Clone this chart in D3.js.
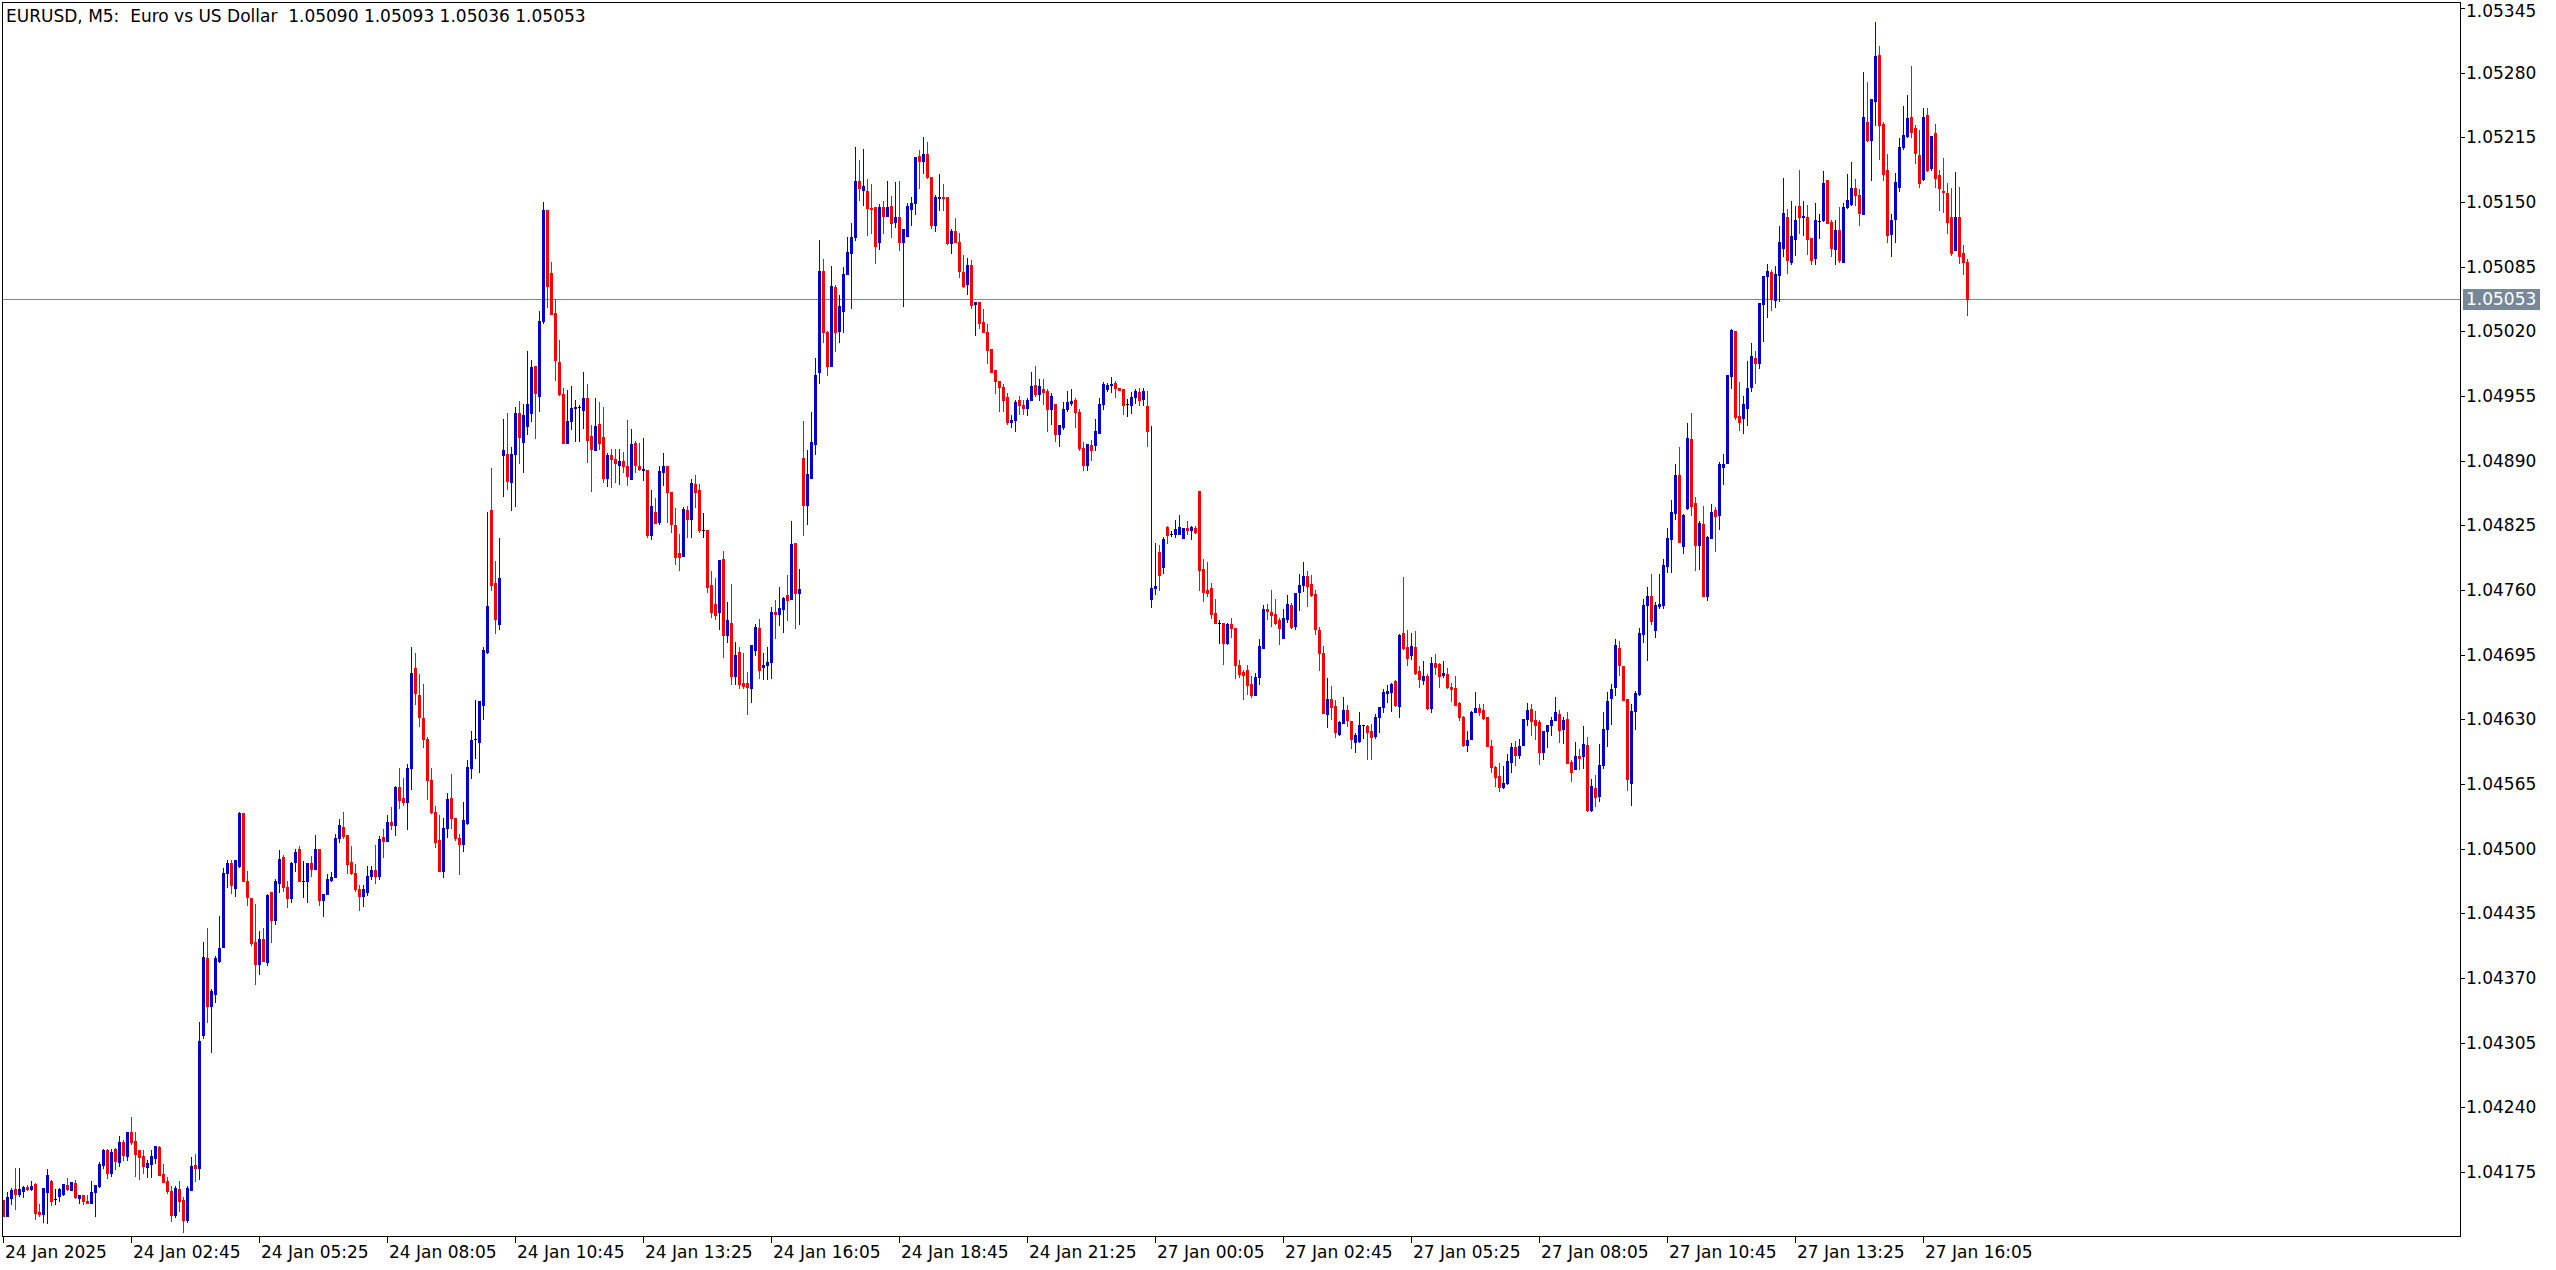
<!DOCTYPE html>
<html><head><meta charset="utf-8">
<script src="https://cdn.jsdelivr.net/npm/d3@7"></script>
<style>html,body{margin:0;padding:0;background:#fff;overflow:hidden}svg{display:block}</style>
</head><body>
<svg id="chart" width="2556" height="1270"></svg>
<script>
const openP = [
1.04147,1.04131,1.04149,1.04158,1.04153,1.04156,1.04160,1.04158,1.04163,1.04135,
1.04133,1.04155,1.04166,1.04148,1.04151,1.04153,1.04162,1.04157,1.04164,1.04149,
1.04152,1.04146,1.04144,1.04155,1.04161,1.04182,1.04197,1.04174,1.04198,1.04185,
1.04205,1.04191,1.04215,1.04206,1.04197,1.04191,1.04180,1.04183,1.04189,1.04200,
1.04173,1.04166,1.04156,1.04132,1.04158,1.04147,1.04127,1.04157,1.04182,1.04179,
1.04313,1.04390,1.04342,1.04354,1.04387,1.04401,1.04476,1.04486,1.04460,1.04483,
1.04536,1.04468,1.04450,1.04406,1.04384,1.04409,1.04386,1.04456,1.04428,1.04465,
1.04492,1.04461,1.04450,1.04487,1.04500,1.04468,1.04467,1.04486,1.04480,1.04500,
1.04448,1.04454,1.04469,1.04472,1.04511,1.04522,1.04514,1.04487,1.04476,1.04459,
1.04452,1.04456,1.04473,1.04479,1.04473,1.04512,1.04508,1.04527,1.04524,1.04562,
1.04551,1.04547,1.04581,1.04682,1.04654,1.04631,1.04610,1.04569,1.04537,1.04509,
1.04478,1.04521,1.04551,1.04531,1.04511,1.04505,1.04526,1.04581,1.04610,1.04607,
1.04644,1.04698,1.04840,1.04767,1.04726,1.04896,1.04897,1.04869,1.04897,1.04938,
1.04909,1.04925,1.04938,1.04985,1.04955,1.05030,1.05142,1.05079,1.05038,1.04989,
1.04957,1.04908,1.04930,1.04943,1.04944,1.04941,1.04953,1.04915,1.04901,1.04927,
1.04914,1.04873,1.04896,1.04892,1.04886,1.04890,1.04885,1.04872,1.04908,1.04885,
1.04881,1.04881,1.04815,1.04838,1.04828,1.04879,1.04885,1.04859,1.04825,1.04797,
1.04794,1.04840,1.04831,1.04867,1.04861,1.04820,1.04820,1.04765,1.04746,1.04738,
1.04791,1.04715,1.04727,1.04674,1.04698,1.04667,1.04667,1.04661,1.04700,1.04722,
1.04683,1.04685,1.04688,1.04738,1.04736,1.04741,1.04755,1.04751,1.04807,1.04757,
1.04893,1.04845,1.04873,1.04907,1.04979,1.05081,1.05019,1.04985,1.05065,1.05020,
1.05040,1.05078,1.05099,1.05115,1.05171,1.05162,1.05161,1.05144,1.05145,1.05110,
1.05145,1.05136,1.05146,1.05130,1.05135,1.05110,1.05116,1.05143,1.05149,1.05196,
1.05191,1.05198,1.05175,1.05127,1.05154,1.05155,1.05155,1.05109,1.05121,1.05110,
1.05080,1.05068,1.05087,1.05047,1.05049,1.05029,1.05019,1.05002,1.04981,1.04970,
1.04964,1.04954,1.04929,1.04931,1.04951,1.04946,1.04943,1.04951,1.04966,1.04957,
1.04962,1.04960,1.04942,1.04947,1.04917,1.04924,1.04942,1.04948,1.04951,1.04939,
1.04903,1.04886,1.04906,1.04906,1.04918,1.04947,1.04962,1.04966,1.04968,1.04963,
1.04962,1.04947,1.04946,1.04954,1.04959,1.04952,1.04945,1.04751,1.04762,1.04798,
1.04783,1.04823,1.04816,1.04816,1.04816,1.04812,1.04822,1.04820,1.04822,1.04860,
1.04781,1.04760,1.04762,1.04737,1.04727,1.04727,1.04707,1.04726,1.04722,1.04685,
1.04678,1.04680,1.04666,1.04654,1.04673,1.04702,1.04741,1.04738,1.04736,1.04730,
1.04712,1.04731,1.04745,1.04724,1.04758,1.04765,1.04774,1.04766,1.04756,1.04720,
1.04697,1.04635,1.04650,1.04643,1.04615,1.04626,1.04639,1.04628,1.04607,1.04608,
1.04624,1.04623,1.04618,1.04613,1.04632,1.04642,1.04656,1.04657,1.04669,1.04643,
1.04717,1.04703,1.04695,1.04703,1.04679,1.04670,1.04674,1.04641,1.04687,1.04686,
1.04675,1.04676,1.04663,1.04661,1.04646,1.04632,1.04604,1.04610,1.04637,1.04641,
1.04639,1.04632,1.04603,1.04582,1.04573,1.04562,1.04566,1.04587,1.04602,1.04594,
1.04604,1.04630,1.04640,1.04629,1.04627,1.04597,1.04618,1.04624,1.04629,1.04635,
1.04620,1.04630,1.04587,1.04580,1.04593,1.04593,1.04604,1.04539,1.04561,1.04553,
1.04584,1.04620,1.04651,1.04662,1.04702,1.04684,1.04650,1.04566,1.04638,1.04655,
1.04716,1.04745,1.04754,1.04720,1.04744,1.04745,1.04784,1.04811,1.04837,1.04876,
1.04804,1.04842,1.04912,1.04847,1.04805,1.04826,1.04754,1.04812,1.04840,1.04835,
1.04884,1.04888,1.04975,1.05020,1.04935,1.04933,1.04943,1.04964,1.04993,1.04988,
1.05047,1.05076,1.05080,1.05051,1.05077,1.05104,1.05135,1.05090,1.05113,1.05146,
1.05135,1.05135,1.05114,1.05094,1.05131,1.05132,1.05172,1.05130,1.05103,1.05122,
1.05090,1.05145,1.05148,1.05164,1.05157,1.05138,1.05230,1.05212,1.05252,1.05298,
1.05228,1.05182,1.05118,1.05133,1.05165,1.05205,1.05216,1.05235,1.05224,1.05197,
1.05173,1.05237,1.05184,1.05219,1.05177,1.05161,1.05159,1.05135,1.05102,1.05135,
1.05099,1.05090];
const highP = [
1.04147,1.04155,1.04159,1.04179,1.04179,1.04161,1.04162,1.04166,1.04164,1.04143,
1.04159,1.04178,1.04167,1.04158,1.04159,1.04163,1.04169,1.04165,1.04167,1.04152,
1.04152,1.04152,1.04166,1.04162,1.04185,1.04198,1.04198,1.04198,1.04199,1.04211,
1.04207,1.04215,1.04230,1.04215,1.04197,1.04197,1.04187,1.04197,1.04201,1.04201,
1.04183,1.04170,1.04161,1.04161,1.04166,1.04150,1.04161,1.04190,1.04193,1.04326,
1.04406,1.04420,1.04359,1.04392,1.04432,1.04481,1.04489,1.04489,1.04489,1.04537,
1.04536,1.04478,1.04450,1.04444,1.04417,1.04420,1.04454,1.04456,1.04470,1.04499,
1.04494,1.04467,1.04487,1.04500,1.04503,1.04488,1.04486,1.04493,1.04514,1.04500,
1.04454,1.04475,1.04477,1.04515,1.04530,1.04537,1.04514,1.04503,1.04485,1.04463,
1.04463,1.04483,1.04483,1.04504,1.04513,1.04520,1.04534,1.04542,1.04563,1.04581,
1.04571,1.04585,1.04703,1.04697,1.04676,1.04666,1.04612,1.04581,1.04543,1.04534,
1.04531,1.04556,1.04575,1.04531,1.04515,1.04547,1.04589,1.04618,1.04649,1.04648,
1.04703,1.04838,1.04883,1.04789,1.04812,1.04932,1.04938,1.04904,1.04944,1.04950,
1.04947,1.05000,1.04991,1.04985,1.05040,1.05150,1.05142,1.05090,1.05052,1.05011,
1.04963,1.04961,1.04965,1.04951,1.04946,1.04979,1.04967,1.04926,1.04953,1.04949,
1.04944,1.04898,1.04902,1.04902,1.04902,1.04899,1.04931,1.04922,1.04910,1.04908,
1.04913,1.04881,1.04861,1.04852,1.04885,1.04898,1.04885,1.04859,1.04842,1.04816,
1.04843,1.04844,1.04872,1.04876,1.04867,1.04837,1.04820,1.04779,1.04772,1.04790,
1.04799,1.04748,1.04766,1.04708,1.04703,1.04697,1.04678,1.04705,1.04726,1.04731,
1.04697,1.04703,1.04743,1.04750,1.04763,1.04753,1.04775,1.04829,1.04807,1.04781,
1.04930,1.04901,1.04939,1.04993,1.05112,1.05093,1.05020,1.05086,1.05067,1.05057,
1.05085,1.05115,1.05129,1.05205,1.05192,1.05203,1.05173,1.05168,1.05145,1.05148,
1.05151,1.05171,1.05156,1.05170,1.05171,1.05123,1.05149,1.05155,1.05195,1.05202,
1.05215,1.05210,1.05175,1.05157,1.05178,1.05168,1.05155,1.05123,1.05134,1.05119,
1.05097,1.05094,1.05092,1.05049,1.05049,1.05042,1.05027,1.05002,1.04981,1.04970,
1.04967,1.04958,1.04936,1.04951,1.04955,1.04951,1.04953,1.04979,1.04985,1.04972,
1.04972,1.04962,1.04958,1.04947,1.04926,1.04949,1.04960,1.04962,1.04953,1.04942,
1.04909,1.04907,1.04911,1.04932,1.04953,1.04969,1.04968,1.04974,1.04970,1.04963,
1.04962,1.04952,1.04959,1.04962,1.04963,1.04963,1.04960,1.04925,1.04807,1.04805,
1.04813,1.04824,1.04819,1.04830,1.04835,1.04822,1.04829,1.04824,1.04824,1.04860,
1.04791,1.04788,1.04767,1.04751,1.04730,1.04727,1.04727,1.04732,1.04722,1.04690,
1.04680,1.04685,1.04674,1.04677,1.04711,1.04745,1.04746,1.04760,1.04751,1.04732,
1.04741,1.04755,1.04747,1.04757,1.04776,1.04788,1.04779,1.04775,1.04760,1.04723,
1.04704,1.04672,1.04664,1.04649,1.04628,1.04652,1.04644,1.04628,1.04616,1.04637,
1.04624,1.04624,1.04625,1.04635,1.04642,1.04660,1.04665,1.04667,1.04670,1.04716,
1.04773,1.04720,1.04717,1.04719,1.04684,1.04689,1.04676,1.04693,1.04696,1.04687,
1.04689,1.04682,1.04667,1.04674,1.04647,1.04633,1.04618,1.04638,1.04657,1.04645,
1.04645,1.04632,1.04609,1.04583,1.04586,1.04583,1.04595,1.04606,1.04608,1.04610,
1.04630,1.04646,1.04645,1.04638,1.04629,1.04618,1.04624,1.04632,1.04652,1.04639,
1.04632,1.04637,1.04589,1.04607,1.04600,1.04623,1.04612,1.04570,1.04574,1.04605,
1.04637,1.04657,1.04666,1.04711,1.04709,1.04684,1.04650,1.04645,1.04658,1.04722,
1.04751,1.04763,1.04776,1.04748,1.04776,1.04791,1.04822,1.04850,1.04887,1.04904,
1.04836,1.04928,1.04938,1.04853,1.04829,1.04844,1.04814,1.04846,1.04843,1.04889,
1.04897,1.04976,1.05022,1.05020,1.04969,1.04955,1.04990,1.05008,1.05000,1.05048,
1.05076,1.05088,1.05082,1.05086,1.05126,1.05174,1.05143,1.05151,1.05146,1.05182,
1.05151,1.05147,1.05114,1.05149,1.05138,1.05181,1.05172,1.05132,1.05132,1.05145,
1.05149,1.05178,1.05190,1.05173,1.05163,1.05281,1.05271,1.05254,1.05331,1.05307,
1.05230,1.05198,1.05138,1.05179,1.05214,1.05246,1.05258,1.05287,1.05227,1.05222,
1.05244,1.05244,1.05216,1.05228,1.05182,1.05194,1.05169,1.05164,1.05180,1.05165,
1.05107,1.05093];
const lowP = [
1.04131,1.04131,1.04143,1.04138,1.04151,1.04150,1.04157,1.04157,1.04128,1.04131,
1.04125,1.04124,1.04142,1.04143,1.04146,1.04152,1.04157,1.04157,1.04149,1.04144,
1.04143,1.04144,1.04144,1.04131,1.04160,1.04179,1.04169,1.04171,1.04178,1.04181,
1.04187,1.04187,1.04203,1.04171,1.04168,1.04174,1.04170,1.04170,1.04184,1.04172,
1.04165,1.04154,1.04126,1.04130,1.04136,1.04115,1.04125,1.04157,1.04166,1.04168,
1.04310,1.04326,1.04296,1.04346,1.04386,1.04401,1.04461,1.04455,1.04452,1.04482,
1.04468,1.04443,1.04403,1.04364,1.04374,1.04387,1.04383,1.04406,1.04424,1.04456,
1.04457,1.04441,1.04446,1.04478,1.04468,1.04451,1.04446,1.04473,1.04480,1.04443,
1.04432,1.04454,1.04467,1.04472,1.04507,1.04511,1.04476,1.04475,1.04457,1.04438,
1.04442,1.04453,1.04470,1.04465,1.04470,1.04492,1.04508,1.04520,1.04514,1.04541,
1.04544,1.04520,1.04560,1.04645,1.04623,1.04602,1.04550,1.04536,1.04502,1.04478,
1.04472,1.04512,1.04521,1.04509,1.04475,1.04498,1.04525,1.04571,1.04591,1.04577,
1.04630,1.04697,1.04760,1.04717,1.04721,1.04854,1.04862,1.04840,1.04844,1.04888,
1.04879,1.04917,1.04930,1.04913,1.04940,1.05028,1.05044,1.05037,1.04971,1.04956,
1.04908,1.04908,1.04922,1.04910,1.04910,1.04923,1.04889,1.04860,1.04901,1.04902,
1.04869,1.04865,1.04864,1.04869,1.04867,1.04879,1.04866,1.04872,1.04879,1.04881,
1.04871,1.04813,1.04811,1.04827,1.04826,1.04866,1.04828,1.04818,1.04786,1.04780,
1.04794,1.04813,1.04813,1.04843,1.04818,1.04813,1.04758,1.04733,1.04731,1.04721,
1.04693,1.04708,1.04666,1.04666,1.04661,1.04661,1.04635,1.04647,1.04695,1.04672,
1.04671,1.04671,1.04672,1.04712,1.04725,1.04718,1.04730,1.04751,1.04722,1.04726,
1.04815,1.04826,1.04873,1.04897,1.04968,1.05009,1.04976,1.04985,1.05000,1.05009,
1.05019,1.05078,1.05043,1.05112,1.05152,1.05147,1.05117,1.05119,1.05089,1.05103,
1.05119,1.05136,1.05115,1.05125,1.05102,1.05045,1.05116,1.05127,1.05138,1.05164,
1.05179,1.05174,1.05124,1.05121,1.05142,1.05142,1.05108,1.05099,1.05110,1.05075,
1.05065,1.05058,1.05043,1.05016,1.05023,1.05019,1.04988,1.04979,1.04958,1.04940,
1.04940,1.04927,1.04924,1.04920,1.04937,1.04937,1.04936,1.04951,1.04955,1.04951,
1.04947,1.04920,1.04927,1.04910,1.04905,1.04922,1.04940,1.04946,1.04924,1.04901,
1.04881,1.04881,1.04891,1.04901,1.04918,1.04942,1.04960,1.04959,1.04954,1.04961,
1.04937,1.04935,1.04938,1.04948,1.04946,1.04946,1.04905,1.04743,1.04756,1.04760,
1.04777,1.04807,1.04814,1.04813,1.04816,1.04812,1.04816,1.04811,1.04817,1.04760,
1.04749,1.04754,1.04732,1.04727,1.04707,1.04686,1.04706,1.04713,1.04672,1.04673,
1.04650,1.04655,1.04652,1.04654,1.04666,1.04702,1.04731,1.04724,1.04726,1.04706,
1.04712,1.04728,1.04722,1.04721,1.04740,1.04759,1.04744,1.04754,1.04716,1.04680,
1.04636,1.04622,1.04630,1.04612,1.04614,1.04626,1.04623,1.04601,1.04597,1.04607,
1.04611,1.04590,1.04590,1.04611,1.04617,1.04637,1.04647,1.04638,1.04643,1.04632,
1.04701,1.04685,1.04691,1.04676,1.04663,1.04666,1.04640,1.04637,1.04676,1.04663,
1.04673,1.04661,1.04648,1.04644,1.04629,1.04603,1.04598,1.04610,1.04637,1.04634,
1.04630,1.04603,1.04577,1.04563,1.04558,1.04561,1.04565,1.04577,1.04584,1.04591,
1.04604,1.04624,1.04614,1.04610,1.04585,1.04590,1.04602,1.04614,1.04629,1.04607,
1.04606,1.04586,1.04568,1.04580,1.04580,1.04581,1.04538,1.04538,1.04543,1.04548,
1.04581,1.04603,1.04625,1.04654,1.04675,1.04649,1.04559,1.04544,1.04620,1.04654,
1.04708,1.04690,1.04726,1.04713,1.04742,1.04742,1.04778,1.04778,1.04831,1.04808,
1.04797,1.04841,1.04835,1.04780,1.04781,1.04754,1.04750,1.04812,1.04799,1.04821,
1.04867,1.04888,1.04963,1.04932,1.04921,1.04918,1.04926,1.04960,1.04968,1.04983,
1.05010,1.05034,1.05041,1.05044,1.05050,1.05096,1.05079,1.05088,1.05097,1.05119,
1.05117,1.05098,1.05088,1.05088,1.05114,1.05131,1.05129,1.05096,1.05088,1.05090,
1.05090,1.05144,1.05147,1.05147,1.05127,1.05138,1.05211,1.05172,1.05227,1.05193,
1.05172,1.05110,1.05096,1.05110,1.05161,1.05203,1.05215,1.05215,1.05189,1.05165,
1.05172,1.05181,1.05182,1.05165,1.05142,1.05140,1.05119,1.05097,1.05102,1.05089,
1.05078,1.05036];
const closeP = [
1.04131,1.04150,1.04157,1.04153,1.04158,1.04160,1.04158,1.04161,1.04134,1.04133,
1.04159,1.04172,1.04146,1.04148,1.04158,1.04163,1.04158,1.04165,1.04150,1.04152,
1.04146,1.04144,1.04155,1.04162,1.04183,1.04197,1.04174,1.04195,1.04186,1.04205,
1.04192,1.04215,1.04205,1.04193,1.04190,1.04181,1.04184,1.04191,1.04201,1.04172,
1.04165,1.04156,1.04132,1.04159,1.04146,1.04127,1.04159,1.04181,1.04179,1.04307,
1.04391,1.04342,1.04357,1.04390,1.04400,1.04476,1.04486,1.04463,1.04489,1.04536,
1.04468,1.04451,1.04405,1.04384,1.04409,1.04387,1.04453,1.04428,1.04468,1.04490,
1.04461,1.04450,1.04486,1.04497,1.04468,1.04468,1.04486,1.04480,1.04500,1.04448,
1.04454,1.04470,1.04472,1.04511,1.04524,1.04513,1.04485,1.04476,1.04459,1.04452,
1.04459,1.04473,1.04479,1.04473,1.04510,1.04508,1.04527,1.04524,1.04562,1.04549,
1.04547,1.04581,1.04677,1.04656,1.04632,1.04610,1.04569,1.04537,1.04507,1.04478,
1.04521,1.04550,1.04531,1.04511,1.04505,1.04529,1.04582,1.04609,1.04610,1.04648,
1.04700,1.04744,1.04765,1.04731,1.04772,1.04901,1.04870,1.04897,1.04938,1.04914,
1.04936,1.04947,1.04984,1.04958,1.05030,1.05142,1.05066,1.05037,1.04991,1.04957,
1.04908,1.04930,1.04943,1.04944,1.04944,1.04953,1.04911,1.04902,1.04925,1.04908,
1.04873,1.04896,1.04892,1.04888,1.04890,1.04885,1.04875,1.04907,1.04886,1.04882,
1.04882,1.04815,1.04844,1.04827,1.04880,1.04885,1.04859,1.04826,1.04793,1.04793,
1.04841,1.04831,1.04868,1.04859,1.04820,1.04820,1.04763,1.04738,1.04735,1.04790,
1.04715,1.04730,1.04674,1.04695,1.04666,1.04664,1.04662,1.04705,1.04723,1.04680,
1.04685,1.04688,1.04738,1.04736,1.04742,1.04752,1.04750,1.04806,1.04757,1.04761,
1.04845,1.04877,1.04909,1.04976,1.05081,1.05019,1.04985,1.05066,1.05019,1.05045,
1.05078,1.05100,1.05115,1.05171,1.05164,1.05166,1.05144,1.05143,1.05106,1.05145,
1.05136,1.05145,1.05129,1.05135,1.05110,1.05123,1.05146,1.05149,1.05195,1.05191,
1.05198,1.05175,1.05127,1.05155,1.05155,1.05154,1.05109,1.05121,1.05110,1.05081,
1.05066,1.05087,1.05046,1.05049,1.05028,1.05019,1.05001,1.04979,1.04970,1.04964,
1.04951,1.04929,1.04931,1.04949,1.04946,1.04943,1.04951,1.04965,1.04957,1.04965,
1.04959,1.04942,1.04955,1.04917,1.04926,1.04942,1.04949,1.04950,1.04939,1.04903,
1.04886,1.04907,1.04901,1.04920,1.04947,1.04967,1.04966,1.04967,1.04963,1.04961,
1.04946,1.04947,1.04954,1.04960,1.04951,1.04960,1.04920,1.04762,1.04764,1.04775,
1.04811,1.04815,1.04816,1.04821,1.04823,1.04822,1.04820,1.04823,1.04818,1.04780,
1.04758,1.04757,1.04736,1.04727,1.04727,1.04707,1.04726,1.04722,1.04685,1.04676,
1.04675,1.04665,1.04654,1.04673,1.04704,1.04741,1.04739,1.04735,1.04727,1.04722,
1.04732,1.04746,1.04723,1.04757,1.04765,1.04774,1.04764,1.04755,1.04721,1.04697,
1.04636,1.04650,1.04642,1.04617,1.04627,1.04639,1.04629,1.04610,1.04614,1.04624,
1.04624,1.04617,1.04612,1.04632,1.04642,1.04657,1.04658,1.04666,1.04644,1.04715,
1.04702,1.04692,1.04704,1.04677,1.04671,1.04674,1.04641,1.04687,1.04683,1.04674,
1.04677,1.04663,1.04660,1.04644,1.04632,1.04604,1.04609,1.04637,1.04641,1.04637,
1.04631,1.04603,1.04582,1.04572,1.04562,1.04566,1.04588,1.04602,1.04594,1.04603,
1.04630,1.04639,1.04628,1.04624,1.04597,1.04618,1.04624,1.04629,1.04637,1.04619,
1.04629,1.04586,1.04577,1.04593,1.04591,1.04605,1.04539,1.04563,1.04552,1.04584,
1.04620,1.04648,1.04660,1.04705,1.04685,1.04649,1.04570,1.04638,1.04656,1.04717,
1.04745,1.04754,1.04729,1.04745,1.04746,1.04785,1.04812,1.04838,1.04876,1.04808,
1.04835,1.04913,1.04844,1.04805,1.04827,1.04754,1.04813,1.04838,1.04834,1.04887,
1.04887,1.04976,1.05021,1.04934,1.04929,1.04947,1.04963,1.04995,1.04988,1.05048,
1.05076,1.05081,1.05053,1.05078,1.05110,1.05139,1.05092,1.05116,1.05132,1.05135,
1.05136,1.05113,1.05092,1.05132,1.05131,1.05169,1.05129,1.05104,1.05122,1.05092,
1.05145,1.05152,1.05164,1.05157,1.05139,1.05235,1.05212,1.05254,1.05297,1.05227,
1.05178,1.05117,1.05132,1.05170,1.05205,1.05217,1.05234,1.05220,1.05199,1.05169,
1.05235,1.05182,1.05216,1.05174,1.05164,1.05160,1.05130,1.05099,1.05135,1.05096,
1.05090,1.05053];

const timeTickBars = [0,32,64,96,128,160,192,224,256,288,320,352,384,416,448,480];
const timeTickLabels = ["24 Jan 2025","24 Jan 02:45","24 Jan 05:25","24 Jan 08:05","24 Jan 10:45","24 Jan 13:25","24 Jan 16:05","24 Jan 18:45","24 Jan 21:25","27 Jan 00:05","27 Jan 02:45","27 Jan 05:25","27 Jan 08:05","27 Jan 10:45","27 Jan 13:25","27 Jan 16:05"];
const priceTicks = [1.05345,1.05280,1.05215,1.05150,1.05085,1.05020,1.04955,1.04890,1.04825,1.04760,1.04695,1.04630,1.04565,1.04500,1.04435,1.04370,1.04305,1.04240,1.04175];
const lastPrice = 1.05053;
const titleText = "EURUSD, M5:  Euro vs US Dollar  1.05090 1.05093 1.05036 1.05053";

const FONT = "'DejaVu Sans', 'Liberation Sans', sans-serif";
const FS = 17;
const UP = "#0000d0", DOWN = "#ff0000", DOJI = "#000000", LINE = "#778899";

const svg = d3.select("#chart");
const frame = {left: 2, top: 2, right: 2460, bottom: 1236};

const x = d3.scaleLinear().domain([0, openP.length - 1]).range([3, 3 + 4 * (openP.length - 1)]);
const y = d3.scaleLinear().domain([1.04175, 1.05345]).range([1172, 8]);
const py = v => Math.round(y(v));

svg.append("rect").attr("x",0).attr("y",0).attr("width",2556).attr("height",1270).attr("fill","#fff");

// current price line
svg.append("rect").attr("shape-rendering","crispEdges").attr("x", frame.left).attr("y", py(lastPrice)).attr("width", frame.right - frame.left).attr("height", 1).attr("fill", LINE);

// candles
const bars = d3.range(openP.length).map(i => ({i, o: openP[i], h: highP[i], l: lowP[i], c: closeP[i]}));
const g = svg.append("g").attr("shape-rendering", "crispEdges");
const col = d => d.c > d.o ? UP : (d.c < d.o ? DOWN : DOJI);
g.selectAll("rect.wick").data(bars).join("rect").attr("class","wick")
  .attr("x", d => x(d.i)).attr("width", 1)
  .attr("y", d => py(Math.max(d.h, d.o, d.c)))
  .attr("height", d => py(Math.min(d.l, d.o, d.c)) - py(Math.max(d.h, d.o, d.c)) + 1)
  .attr("fill", col);
g.selectAll("rect.body").data(bars).join("rect").attr("class","body")
  .attr("x", d => x(d.i) - 1).attr("width", 3)
  .attr("y", d => py(Math.max(d.o, d.c)))
  .attr("height", d => py(Math.min(d.o, d.c)) - py(Math.max(d.o, d.c)) + 1)
  .attr("fill", col);

// frame
const fr = svg.append("g").attr("shape-rendering","crispEdges");
fr.append("rect").attr("x", frame.left).attr("y", frame.top).attr("width", frame.right - frame.left + 1).attr("height", 1).attr("fill","#000");
fr.append("rect").attr("x", frame.left).attr("y", frame.top).attr("width", 1).attr("height", frame.bottom - frame.top + 1).attr("fill","#000");
fr.append("rect").attr("x", frame.right).attr("y", frame.top).attr("width", 1).attr("height", frame.bottom - frame.top + 1).attr("fill","#000");
fr.append("rect").attr("x", frame.left).attr("y", frame.bottom).attr("width", frame.right - frame.left + 1).attr("height", 1).attr("fill","#000");

// y axis
const ya = svg.append("g");
ya.selectAll("rect").data(priceTicks).join("rect").attr("shape-rendering","crispEdges")
  .attr("x", frame.right + 1).attr("y", d => py(d)).attr("width", 4).attr("height", 1).attr("fill","#000");
ya.selectAll("text").data(priceTicks).join("text")
  .attr("x", frame.right + 6).attr("y", d => Math.max(py(d) + 6, 17))
  .attr("font-family", FONT).attr("font-size", FS).attr("fill","#000")
  .text(d => d.toFixed(5));

// current price tag
const tag = svg.append("g");
tag.append("rect").attr("shape-rendering","crispEdges").attr("x", frame.right + 3).attr("y", py(lastPrice) - 10).attr("width", 77).attr("height", 21).attr("fill", LINE);
tag.append("text").attr("x", frame.right + 6).attr("y", py(lastPrice) + 6)
  .attr("font-family", FONT).attr("font-size", FS).attr("fill","#fff").text(lastPrice.toFixed(5));

// x axis
const xa = svg.append("g");
xa.selectAll("rect").data(timeTickBars).join("rect").attr("shape-rendering","crispEdges")
  .attr("x", d => x(d)).attr("y", frame.bottom + 1).attr("width", 1).attr("height", 6).attr("fill","#000");
xa.selectAll("text").data(timeTickBars).join("text")
  .attr("x", d => x(d) + 2).attr("y", frame.bottom + 22)
  .attr("font-family", FONT).attr("font-size", FS).attr("fill","#000")
  .text((d, k) => timeTickLabels[k]);

// title
svg.append("text").attr("x", 6).attr("y", 22).attr("xml:space","preserve").style("white-space","pre")
  .attr("font-family", FONT).attr("font-size", FS).attr("fill","#000").text(titleText);
</script>
</body></html>
